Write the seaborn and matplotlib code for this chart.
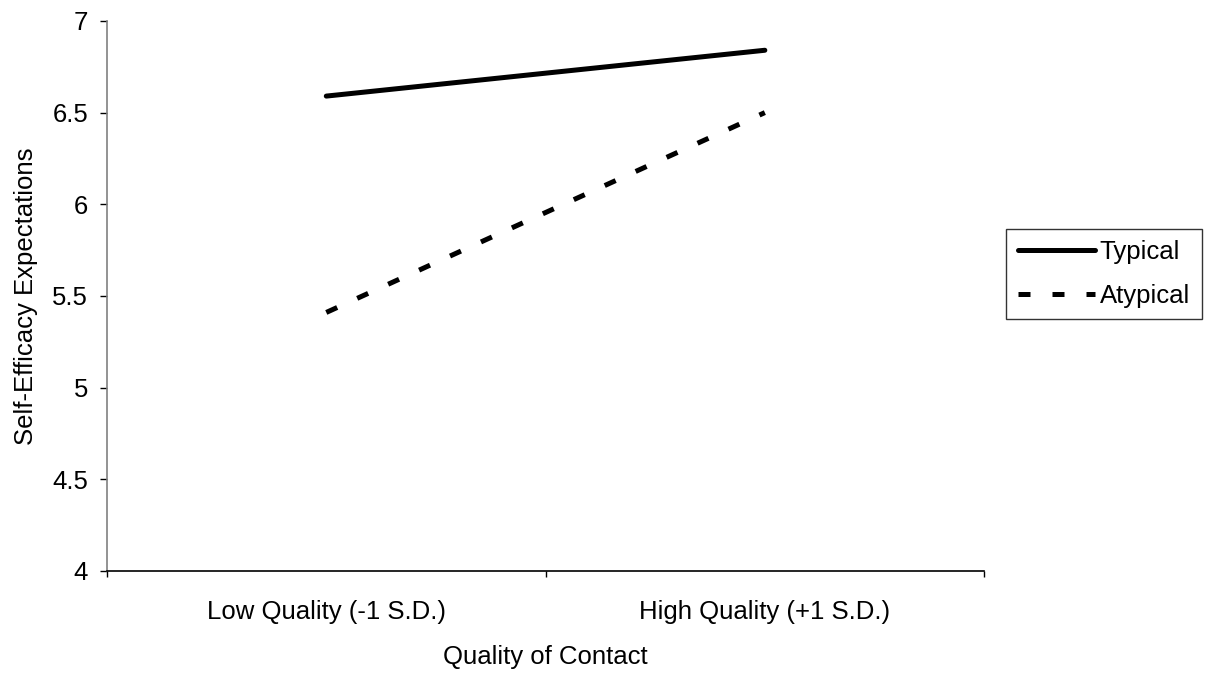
import pandas as pd
import seaborn as sns
import matplotlib.pyplot as plt
from matplotlib.ticker import FixedLocator

quality = ["Low Quality (-1 S.D.)", "High Quality (+1 S.D.)"]
typical = [6.59, 6.84]
atypical = [5.41, 6.50]
groups = ["Typical", "Atypical"]

df = pd.DataFrame({
    "Quality": quality * 2,
    "Score": typical + atypical,
    "Group": [groups[0]] * 2 + [groups[1]] * 2,
})

sns.set_style("white")
plt.rcParams['font.family'] = ['Liberation Sans', 'DejaVu Sans']
plt.rcParams['text.color'] = 'black'
plt.rcParams['axes.labelcolor'] = 'black'
plt.rcParams['xtick.color'] = 'black'
plt.rcParams['ytick.color'] = 'black'

fs = 18.5

fig = plt.figure(figsize=(12.09, 6.77), dpi=100)
ax = fig.add_axes([0.0885, 0.1566, 0.7255, 0.8125])

sns.lineplot(data=df, x="Quality", y="Score", style="Group",
             dashes={"Typical": "", "Atypical": (2.4, 4.4)},
             color="black", linewidth=3.6, ax=ax, legend=False)
for ln in ax.lines:
    ln.set_dash_capstyle("butt")
    ln.set_solid_capstyle("round")

ax.set_xlim(-0.5, 1.5)
ax.set_ylim(4, 7)
ax.set_yticks([4, 4.5, 5, 5.5, 6, 6.5, 7])
ax.set_yticklabels(["4", "4.5", "5", "5.5", "6", "6.5", "7"])
ax.set_xticks([0, 1])
ax.set_xticklabels(quality)
ax.xaxis.set_minor_locator(FixedLocator([-0.5, 0.5, 1.5]))
ax.tick_params(axis="x", which="major", length=0, pad=21, labelsize=fs)
ax.tick_params(axis="x", which="minor", length=4.5, width=1, color="black", direction="out")
ax.tick_params(axis="y", length=5, width=1, color="black", direction="out", pad=8.5, labelsize=fs)
ax.xaxis.set_tick_params(bottom=True, which="both")
ax.yaxis.set_tick_params(left=True)

for side in ["top", "right"]:
    ax.spines[side].set_visible(False)
ax.spines["left"].set_color("#808080")
ax.spines["bottom"].set_color("black")
ax.spines["left"].set_linewidth(1.2)
ax.spines["bottom"].set_linewidth(1.2)

ax.set_xlabel("Quality of Contact", fontsize=fs, labelpad=15)
ax.set_ylabel("Self-Efficacy Expectations", fontsize=fs, labelpad=10)

leg = ax.legend(ax.lines, groups, loc="center left", bbox_to_anchor=(1.025, 0.54),
                frameon=True, fancybox=False, edgecolor="black", fontsize=fs,
                handlelength=3.0, handletextpad=0.2, borderpad=0.45,
                labelspacing=0.75, borderaxespad=0)
leg.get_frame().set_linewidth(1.0)

fig.savefig("out.png", dpi=100)
